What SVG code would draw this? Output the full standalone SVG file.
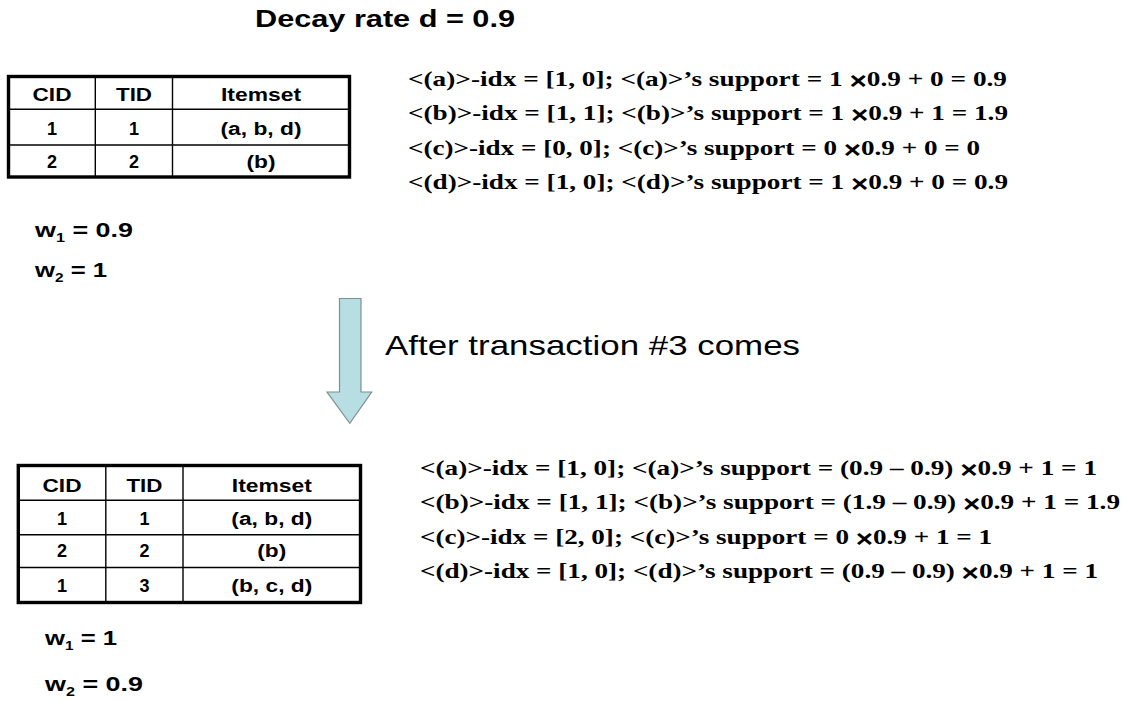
<svg xmlns="http://www.w3.org/2000/svg" width="1130" height="702" viewBox="0 0 1130 702">
  <style>
    .bg { fill: #ffffff; }
    .frame { fill: none; stroke: #000000; stroke-width: 3.4; }
    .grid { stroke: #000000; stroke-width: 1.4; fill: none; }
    .cell { font-family: "Liberation Sans", Arial, sans-serif; font-weight: bold; font-size: 18px; fill: #000000; text-anchor: middle; }
    .title { font-family: "Liberation Sans", Arial, sans-serif; font-weight: bold; font-size: 24px; fill: #000000; }
    .weight { font-family: "Liberation Sans", Arial, sans-serif; font-weight: bold; font-size: 20px; fill: #000000; }
    .sub { font-size: 12px; }
    .formula { font-family: "Liberation Serif", "Times New Roman", serif; font-weight: bold; font-size: 22px; fill: #000000; }
    .times { font-family: "Liberation Sans", Arial, sans-serif; font-weight: bold; font-size: 24px; }
    .caption { font-family: "Liberation Sans", Arial, sans-serif; font-size: 28px; fill: #000000; }
    .arrow { fill: #b7dfe3; stroke: #7d8f91; stroke-width: 1.2; stroke-linejoin: miter; }
  </style>

  <rect class="bg" x="0" y="0" width="1130" height="702"/>

  <g id="title">
    <text class="title" x="255" y="27" textLength="260" lengthAdjust="spacingAndGlyphs">Decay rate d = 0.9</text>
  </g>

  <!-- Transactions before #3 -->
  <g id="table-before">
    <line class="grid" x1="95.3" y1="76.5" x2="95.3" y2="177"/>
    <line class="grid" x1="172.5" y1="76.5" x2="172.5" y2="177"/>
    <line class="grid" x1="8.5" y1="109.3" x2="349.5" y2="109.3"/>
    <line class="grid" x1="8.5" y1="145" x2="349.5" y2="145"/>
    <rect class="frame" x="8.5" y="76.5" width="341" height="100.5"/>
    <text class="cell" x="52" y="101" textLength="39" lengthAdjust="spacingAndGlyphs">CID</text>
    <text class="cell" x="134" y="101" textLength="36" lengthAdjust="spacingAndGlyphs">TID</text>
    <text class="cell" x="261" y="101" textLength="80" lengthAdjust="spacingAndGlyphs">Itemset</text>
    <text class="cell" x="52" y="135">1</text>
    <text class="cell" x="134" y="135">1</text>
    <text class="cell" x="261" y="135" textLength="81" lengthAdjust="spacingAndGlyphs">(a, b, d)</text>
    <text class="cell" x="52" y="168">2</text>
    <text class="cell" x="134" y="168">2</text>
    <text class="cell" x="261" y="168" textLength="29" lengthAdjust="spacingAndGlyphs">(b)</text>
  </g>

  <!-- Supports before transaction #3; the multiplication sign sits a little low -->
  <g id="supports-before">
    <text class="formula" x="408" y="86" textLength="599" lengthAdjust="spacingAndGlyphs">&lt;(a)&gt;-idx = [1, 0]; &lt;(a)&gt;’s support = 1 <tspan class="times" dy="3">×</tspan><tspan dy="-3">0.9 + 0 = 0.9</tspan></text>
    <text class="formula" x="408" y="120" textLength="600" lengthAdjust="spacingAndGlyphs">&lt;(b)&gt;-idx = [1, 1]; &lt;(b)&gt;’s support = 1 <tspan class="times" dy="3">×</tspan><tspan dy="-3">0.9 + 1 = 1.9</tspan></text>
    <text class="formula" x="408" y="155" textLength="572" lengthAdjust="spacingAndGlyphs">&lt;(c)&gt;-idx = [0, 0]; &lt;(c)&gt;’s support = 0 <tspan class="times" dy="3">×</tspan><tspan dy="-3">0.9 + 0 = 0</tspan></text>
    <text class="formula" x="408" y="189" textLength="600" lengthAdjust="spacingAndGlyphs">&lt;(d)&gt;-idx = [1, 0]; &lt;(d)&gt;’s support = 1 <tspan class="times" dy="3">×</tspan><tspan dy="-3">0.9 + 0 = 0.9</tspan></text>
  </g>

  <g id="weights-before">
    <text class="weight" x="35" y="237" textLength="98" lengthAdjust="spacingAndGlyphs">w<tspan class="sub" dy="5">1</tspan><tspan dy="-5"> = 0.9</tspan></text>
    <text class="weight" x="35" y="277" textLength="72" lengthAdjust="spacingAndGlyphs">w<tspan class="sub" dy="5">2</tspan><tspan dy="-5"> = 1</tspan></text>
  </g>

  <!-- Transition: block arrow and its label -->
  <g id="connectors">
    <path class="arrow" d="M339.5,298.5 L361,298.5 L361,392 L371.7,392 L349.8,423.3 L327,392 L339.5,392 Z"/>
  </g>
  <g id="transition-label">
    <text class="caption" x="385" y="355" textLength="415" lengthAdjust="spacingAndGlyphs">After transaction #3 comes</text>
  </g>

  <!-- Transactions after #3 -->
  <g id="table-after">
    <line class="grid" x1="105.8" y1="465.5" x2="105.8" y2="602.5"/>
    <line class="grid" x1="183" y1="465.5" x2="183" y2="602.5"/>
    <line class="grid" x1="18.3" y1="500.2" x2="360.5" y2="500.2"/>
    <line class="grid" x1="18.3" y1="534.8" x2="360.5" y2="534.8"/>
    <line class="grid" x1="18.3" y1="567.5" x2="360.5" y2="567.5"/>
    <rect class="frame" x="18.3" y="465.5" width="342.2" height="137"/>
    <text class="cell" x="62" y="492" textLength="39" lengthAdjust="spacingAndGlyphs">CID</text>
    <text class="cell" x="144.4" y="492" textLength="36" lengthAdjust="spacingAndGlyphs">TID</text>
    <text class="cell" x="271.8" y="492" textLength="80" lengthAdjust="spacingAndGlyphs">Itemset</text>
    <text class="cell" x="62" y="525">1</text>
    <text class="cell" x="144.4" y="525">1</text>
    <text class="cell" x="271.8" y="525" textLength="81" lengthAdjust="spacingAndGlyphs">(a, b, d)</text>
    <text class="cell" x="62" y="557">2</text>
    <text class="cell" x="144.4" y="557">2</text>
    <text class="cell" x="271.8" y="557" textLength="29" lengthAdjust="spacingAndGlyphs">(b)</text>
    <text class="cell" x="62" y="592">1</text>
    <text class="cell" x="144.4" y="592">3</text>
    <text class="cell" x="271.8" y="592" textLength="81" lengthAdjust="spacingAndGlyphs">(b, c, d)</text>
  </g>

  <g id="supports-after">
    <text class="formula" x="420" y="475" textLength="677" lengthAdjust="spacingAndGlyphs">&lt;(a)&gt;-idx = [1, 0]; &lt;(a)&gt;’s support = (0.9 – 0.9) <tspan class="times" dy="3">×</tspan><tspan dy="-3">0.9 + 1 = 1</tspan></text>
    <text class="formula" x="420" y="509" textLength="700" lengthAdjust="spacingAndGlyphs">&lt;(b)&gt;-idx = [1, 1]; &lt;(b)&gt;’s support = (1.9 – 0.9) <tspan class="times" dy="3">×</tspan><tspan dy="-3">0.9 + 1 = 1.9</tspan></text>
    <text class="formula" x="420" y="544" textLength="572" lengthAdjust="spacingAndGlyphs">&lt;(c)&gt;-idx = [2, 0]; &lt;(c)&gt;’s support = 0 <tspan class="times" dy="3">×</tspan><tspan dy="-3">0.9 + 1 = 1</tspan></text>
    <text class="formula" x="420" y="578" textLength="678" lengthAdjust="spacingAndGlyphs">&lt;(d)&gt;-idx = [1, 0]; &lt;(d)&gt;’s support = (0.9 – 0.9) <tspan class="times" dy="3">×</tspan><tspan dy="-3">0.9 + 1 = 1</tspan></text>
  </g>

  <g id="weights-after">
    <text class="weight" x="45" y="645" textLength="72" lengthAdjust="spacingAndGlyphs">w<tspan class="sub" dy="5">1</tspan><tspan dy="-5"> = 1</tspan></text>
    <text class="weight" x="45" y="691" textLength="98" lengthAdjust="spacingAndGlyphs">w<tspan class="sub" dy="5">2</tspan><tspan dy="-5"> = 0.9</tspan></text>
  </g>
</svg>
